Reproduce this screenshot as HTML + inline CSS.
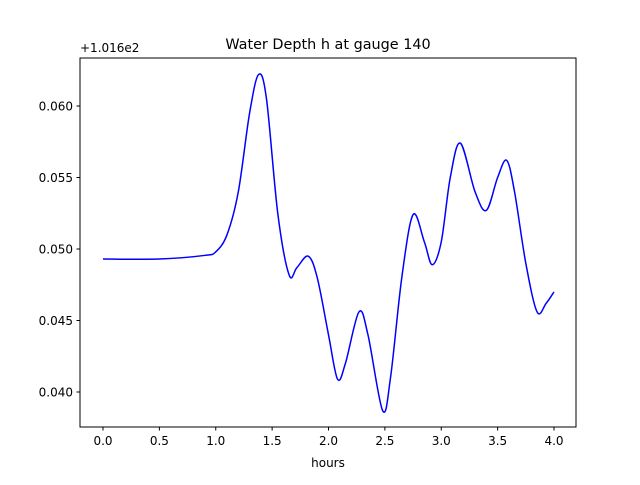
<!DOCTYPE html>
<html><head><meta charset="utf-8"><style>
body{margin:0;background:#fff;}
svg text{font-family:"DejaVu Sans","Liberation Sans",sans-serif;fill:#000;}
</style></head><body>
<svg id="chart" width="640" height="480" xmlns="http://www.w3.org/2000/svg">
<rect width="640" height="480" fill="#fff"/>
<text x="328" y="49" font-size="14.4" text-anchor="middle">Water Depth h at gauge 140</text>
<text x="80" y="52" font-size="12">+1.016e2</text>
<text x="328" y="467" font-size="12" text-anchor="middle">hours</text>
<g id="xticks"></g><g id="yticks"></g>
<path id="line" fill="none" stroke="#0000ff" stroke-width="1.5"/>
<rect x="80" y="58" width="496" height="369" fill="none" stroke="#000" stroke-width="1"/>
</svg>
<script>
const hours=[0,0.5,0.9,1.0,1.1,1.2,1.3,1.38,1.45,1.55,1.65,1.72,1.82,1.9,2.0,2.08,2.15,2.27,2.35,2.48,2.55,2.65,2.75,2.85,2.92,3.0,3.08,3.17,3.3,3.4,3.5,3.58,3.65,3.75,3.85,3.93,4.0];
const depth=[0.0493,0.0493,0.04955,0.0498,0.0510,0.0540,0.0595,0.0622,0.0605,0.0525,0.0482,0.0487,0.0495,0.0480,0.0440,0.0409,0.0420,0.0456,0.0440,0.0387,0.0410,0.0480,0.0524,0.0505,0.0489,0.0505,0.0550,0.0574,0.0540,0.0527,0.0550,0.0562,0.0540,0.0490,0.0456,0.0462,0.0470];
const xTicks=[0,0.5,1.0,1.5,2.0,2.5,3.0,3.5,4.0];
const xTickLabels=["0.0","0.5","1.0","1.5","2.0","2.5","3.0","3.5","4.0"];
const yTicks=[0.040,0.045,0.050,0.055,0.060];
const yTickLabels=["0.040","0.045","0.050","0.055","0.060"];
const NS="http://www.w3.org/2000/svg";
function xs(v){return 103+v*112.75;}
function ys(v){return 392-(v-0.040)*14300;}
const xg=document.getElementById('xticks'),yg=document.getElementById('yticks');
xTicks.forEach((t,i)=>{
 const l=document.createElementNS(NS,'line');
 
 
 l.setAttribute('x1',xs(t));l.setAttribute('x2',xs(t));l.setAttribute('y1',427);l.setAttribute('y2',430.5);l.setAttribute('stroke','#000');
 xg.appendChild(l);
 const tx=document.createElementNS(NS,'text');
 
 
 tx.setAttribute('x',xs(t));tx.setAttribute('y',445);tx.setAttribute('font-size','12');tx.setAttribute('text-anchor','middle');
 tx.textContent=xTickLabels[i];xg.appendChild(tx);
});
yTicks.forEach((t,i)=>{
 const l=document.createElementNS(NS,'line');
 
 
 l.setAttribute('x1',76.5);l.setAttribute('x2',80);l.setAttribute('y1',ys(t));l.setAttribute('y2',ys(t));l.setAttribute('stroke','#000');
 yg.appendChild(l);
 const tx=document.createElementNS(NS,'text');
 
 
 tx.setAttribute('x',73);tx.setAttribute('y',ys(t)+4.5);tx.setAttribute('font-size','12');tx.setAttribute('text-anchor','end');
 tx.textContent=yTickLabels[i];yg.appendChild(tx);
});
const P=hours.map((h,i)=>[xs(h),ys(depth[i])]);
let d='M'+P[0][0]+','+P[0][1];
for(let i=0;i<P.length-1;i++){
 const p0=P[Math.max(0,i-1)],p1=P[i],p2=P[i+1],p3=P[Math.min(P.length-1,i+2)];
 const c1=[p1[0]+(p2[0]-p0[0])/6,p1[1]+(p2[1]-p0[1])/6];
 const c2=[p2[0]-(p3[0]-p1[0])/6,p2[1]-(p3[1]-p1[1])/6];
 d+=' C'+c1[0]+','+c1[1]+' '+c2[0]+','+c2[1]+' '+p2[0]+','+p2[1];
}
document.getElementById('line').setAttribute('d',d);
</script>
</body></html>
